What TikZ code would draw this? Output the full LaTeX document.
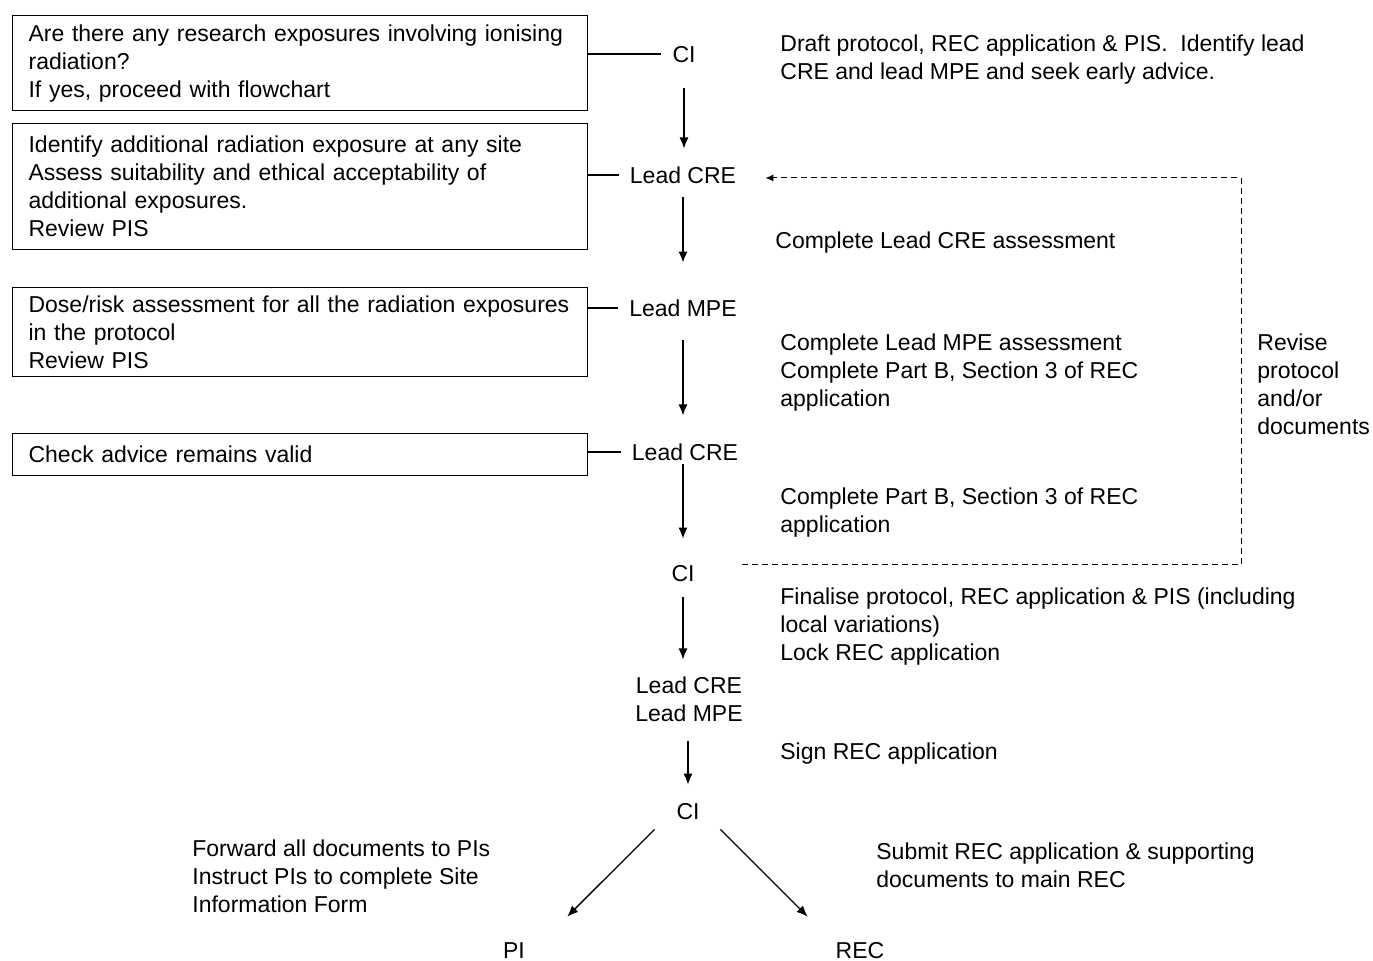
\documentclass[tikz,border=0pt]{standalone}
\usepackage{fontspec}
\setmainfont{Liberation Sans}
\usetikzlibrary{arrows.meta}
\begin{document}
\begin{tikzpicture}[x=0.5pt,y=-0.5pt,
  font=\fontsize{11.5}{14}\selectfont,
  box/.style={draw,line width=0.6pt,anchor=north west,inner xsep=8pt,inner ysep=0pt,text width=271.5pt,align=left},
  role/.style={inner sep=0pt,text height=8.5pt,text depth=0pt},
  note/.style={inner sep=0pt,anchor=base west,align=left},
  flow/.style={line width=0.65pt,-{Latex[length=5.5pt,width=4.5pt]}},
  link/.style={line width=0.6pt,shorten >=5.5pt},
  back/.style={line width=0.5pt,dash pattern=on 3pt off 2pt,-{Latex[length=4pt,width=3.5pt]}}]
\useasboundingbox (0,0) rectangle (1373,961);
    \node[box,minimum height=47.5pt] (ask) at (12,15) {Are there any research exposures involving ionising\\radiation?\\If yes, proceed with flowchart};
    \node[box,minimum height=63pt] (identify) at (12,123) {Identify additional radiation exposure at any site\\Assess suitability and ethical acceptability of\\additional exposures.\\Review PIS};
    \node[box,minimum height=44.5pt] (dose) at (12,287) {Dose/risk assessment for all the radiation exposures\\in the protocol\\Review PIS};
    \node[box,minimum height=21pt] (check) at (12,433) {Check advice remains valid};

    \node[role] (ci1) at (684,54) {CI};
    \node[role] (cre1) at (683,175) {Lead CRE};
    \node[role] (mpe1) at (683,308) {Lead MPE};
    \node[role] (cre2) at (685,452) {Lead CRE};
    \node[role] (ci2) at (683,573) {CI};
    \node[inner sep=0pt,align=center,anchor=base] (both) at (689,722) {Lead CRE\\Lead MPE};
    \node[role] (ci3) at (688,811) {CI};
    \node[role] (pi) at (514,950) {PI};
    \node[role] (rec) at (860,950) {REC};

    \node[note] (draft) at (780,80) {Draft protocol, REC application \& PIS.\ \ Identify lead\\CRE and lead MPE and seek early advice.};
    \node[note] (creassess) at (775,249) {Complete Lead CRE assessment};
    \node[note] (mpeassess) at (780,407) {Complete Lead MPE assessment\\Complete Part B, Section 3 of REC\\application};
    \node[note] (partb) at (780,533) {Complete Part B, Section 3 of REC\\application};
    \node[note] (finalise) at (780,661) {Finalise protocol, REC application \& PIS (including\\local variations)\\Lock REC application};
    \node[note] (sign) at (780,760) {Sign REC application};
    \node[note] (submit) at (876,888) {Submit REC application \& supporting\\documents to main REC};
    \node[note] (forward) at (192,913) {Forward all documents to PIs\\Instruct PIs to complete Site\\Information Form};
    \node[note] (revise) at (1257,435) {Revise\\protocol\\and/or\\documents};

    \draw[link] (ci1.west -| ask.east) -- (ci1.west);
    \draw[link] (cre1.west -| identify.east) -- (cre1.west);
    \draw[link] (mpe1.west -| dose.east) -- (mpe1.west);
    \draw[link] (cre2.west -| check.east) -- (cre2.west);

    \draw[flow,shorten <=12.75pt,shorten >=13.25pt] (ci1) -- (ci1 |- cre1);
    \draw[flow,shorten <=6.75pt,shorten >=18.25pt] (cre1) -- (mpe1);
    \draw[flow,shorten <=11.75pt,shorten >=18.25pt] (mpe1) -- (mpe1 |- cre2);
    \draw[flow,shorten <=6.25pt,shorten >=12.75pt] (cre2 -| ci2) -- (ci2);
    \draw[flow,shorten <=7.75pt,shorten >=8.75pt] (ci2.south) -- (ci2.south |- both.north);
    \draw[flow,shorten <=9pt,shorten >=8.75pt] (both.south -| ci3) -- (ci3.north);
    \draw[flow] ([xshift=-10.75pt,yshift=-4.75pt]ci3.south west) -- ([xshift=21pt,yshift=12.25pt]pi.north east);
    \draw[flow] ([xshift=10.25pt,yshift=-4.75pt]ci3.south east) -- ([xshift=-13.85pt,yshift=12.25pt]rec.north west);

    \coordinate (turn) at (1241,178);
    \draw[back] ([xshift=23.5pt,yshift=4pt]ci2.east) -| (turn) -- ([xshift=14.5pt,yshift=-1.5pt]cre1.east);
\end{tikzpicture}
\end{document}
